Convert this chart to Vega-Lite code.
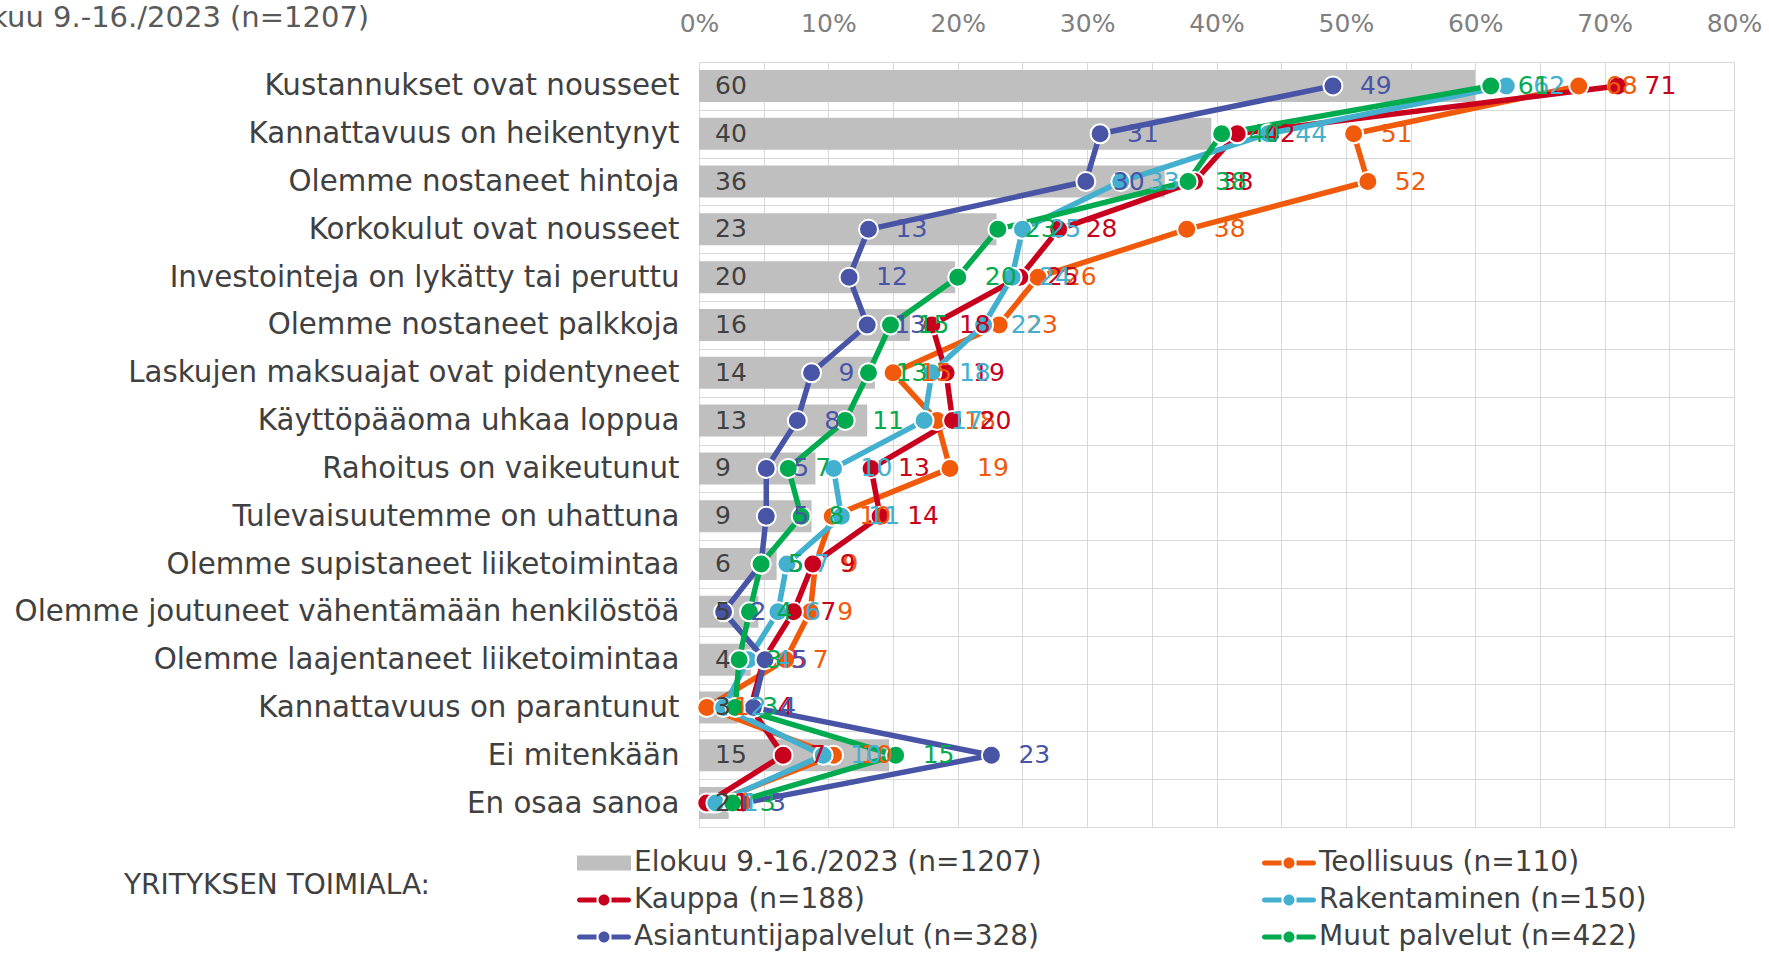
{
  "$schema": "https://vega.github.io/schema/vega-lite/v6.json",
  "width": 1035,
  "height": 765,
  "autosize": {"type": "none"},
  "padding": {"left": 699, "top": 62, "right": 35, "bottom": 127},
  "background": "white",
  "config": {
    "font": "DejaVu Sans",
    "view": {"stroke": "#d9d9d9", "strokeWidth": 1}
  },
  "title": {
    "text": "Elokuu 9.-16./2023 (n=1207)",
    "anchor": "start",
    "frame": "group",
    "dx": -752,
    "dy": 51,
    "offset": 0,
    "fontSize": 29,
    "fontWeight": "normal",
    "color": "#595959",
    "baseline": "bottom"
  },
  "data": {
    "values": [
      {"category": "Kustannukset ovat nousseet", "series": "Elokuu 9.-16./2023 (n=1207)", "value": 60},
      {"category": "Kustannukset ovat nousseet", "series": "Teollisuus (n=110)", "value": 68},
      {"category": "Kustannukset ovat nousseet", "series": "Kauppa (n=188)", "value": 71},
      {"category": "Kustannukset ovat nousseet", "series": "Rakentaminen (n=150)", "value": 62.4},
      {"category": "Kustannukset ovat nousseet", "series": "Asiantuntijapalvelut (n=328)", "value": 49},
      {"category": "Kustannukset ovat nousseet", "series": "Muut palvelut (n=422)", "value": 61.2},

      {"category": "Kannattavuus on heikentynyt", "series": "Elokuu 9.-16./2023 (n=1207)", "value": 39.6},
      {"category": "Kannattavuus on heikentynyt", "series": "Teollisuus (n=110)", "value": 50.6},
      {"category": "Kannattavuus on heikentynyt", "series": "Kauppa (n=188)", "value": 41.6},
      {"category": "Kannattavuus on heikentynyt", "series": "Rakentaminen (n=150)", "value": 44},
      {"category": "Kannattavuus on heikentynyt", "series": "Asiantuntijapalvelut (n=328)", "value": 31},
      {"category": "Kannattavuus on heikentynyt", "series": "Muut palvelut (n=422)", "value": 40.4},

      {"category": "Olemme nostaneet hintoja", "series": "Elokuu 9.-16./2023 (n=1207)", "value": 36},
      {"category": "Olemme nostaneet hintoja", "series": "Teollisuus (n=110)", "value": 51.7},
      {"category": "Olemme nostaneet hintoja", "series": "Kauppa (n=188)", "value": 38.3},
      {"category": "Olemme nostaneet hintoja", "series": "Rakentaminen (n=150)", "value": 32.6},
      {"category": "Olemme nostaneet hintoja", "series": "Asiantuntijapalvelut (n=328)", "value": 29.9},
      {"category": "Olemme nostaneet hintoja", "series": "Muut palvelut (n=422)", "value": 37.8},

      {"category": "Korkokulut ovat nousseet", "series": "Elokuu 9.-16./2023 (n=1207)", "value": 23},
      {"category": "Korkokulut ovat nousseet", "series": "Teollisuus (n=110)", "value": 37.7},
      {"category": "Korkokulut ovat nousseet", "series": "Kauppa (n=188)", "value": 27.8},
      {"category": "Korkokulut ovat nousseet", "series": "Rakentaminen (n=150)", "value": 25},
      {"category": "Korkokulut ovat nousseet", "series": "Asiantuntijapalvelut (n=328)", "value": 13.1},
      {"category": "Korkokulut ovat nousseet", "series": "Muut palvelut (n=422)", "value": 23.1},

      {"category": "Investointeja on lykätty tai peruttu", "series": "Elokuu 9.-16./2023 (n=1207)", "value": 19.8},
      {"category": "Investointeja on lykätty tai peruttu", "series": "Teollisuus (n=110)", "value": 26.2},
      {"category": "Investointeja on lykätty tai peruttu", "series": "Kauppa (n=188)", "value": 24.8},
      {"category": "Investointeja on lykätty tai peruttu", "series": "Rakentaminen (n=150)", "value": 24.2},
      {"category": "Investointeja on lykätty tai peruttu", "series": "Asiantuntijapalvelut (n=328)", "value": 11.6},
      {"category": "Investointeja on lykätty tai peruttu", "series": "Muut palvelut (n=422)", "value": 20},

      {"category": "Olemme nostaneet palkkoja", "series": "Elokuu 9.-16./2023 (n=1207)", "value": 16.3},
      {"category": "Olemme nostaneet palkkoja", "series": "Teollisuus (n=110)", "value": 23.2},
      {"category": "Olemme nostaneet palkkoja", "series": "Kauppa (n=188)", "value": 18},
      {"category": "Olemme nostaneet palkkoja", "series": "Rakentaminen (n=150)", "value": 22},
      {"category": "Olemme nostaneet palkkoja", "series": "Asiantuntijapalvelut (n=328)", "value": 13},
      {"category": "Olemme nostaneet palkkoja", "series": "Muut palvelut (n=422)", "value": 14.8},

      {"category": "Laskujen maksuajat ovat pidentyneet", "series": "Elokuu 9.-16./2023 (n=1207)", "value": 13.6},
      {"category": "Laskujen maksuajat ovat pidentyneet", "series": "Teollisuus (n=110)", "value": 15},
      {"category": "Laskujen maksuajat ovat pidentyneet", "series": "Kauppa (n=188)", "value": 19.1},
      {"category": "Laskujen maksuajat ovat pidentyneet", "series": "Rakentaminen (n=150)", "value": 18},
      {"category": "Laskujen maksuajat ovat pidentyneet", "series": "Asiantuntijapalvelut (n=328)", "value": 8.7},
      {"category": "Laskujen maksuajat ovat pidentyneet", "series": "Muut palvelut (n=422)", "value": 13.1},

      {"category": "Käyttöpääoma uhkaa loppua", "series": "Elokuu 9.-16./2023 (n=1207)", "value": 13},
      {"category": "Käyttöpääoma uhkaa loppua", "series": "Teollisuus (n=110)", "value": 18.4},
      {"category": "Käyttöpääoma uhkaa loppua", "series": "Kauppa (n=188)", "value": 19.6},
      {"category": "Käyttöpääoma uhkaa loppua", "series": "Rakentaminen (n=150)", "value": 17.4},
      {"category": "Käyttöpääoma uhkaa loppua", "series": "Asiantuntijapalvelut (n=328)", "value": 7.6},
      {"category": "Käyttöpääoma uhkaa loppua", "series": "Muut palvelut (n=422)", "value": 11.3},

      {"category": "Rahoitus on vaikeutunut", "series": "Elokuu 9.-16./2023 (n=1207)", "value": 9},
      {"category": "Rahoitus on vaikeutunut", "series": "Teollisuus (n=110)", "value": 19.4},
      {"category": "Rahoitus on vaikeutunut", "series": "Kauppa (n=188)", "value": 13.3},
      {"category": "Rahoitus on vaikeutunut", "series": "Rakentaminen (n=150)", "value": 10.4},
      {"category": "Rahoitus on vaikeutunut", "series": "Asiantuntijapalvelut (n=328)", "value": 5.2},
      {"category": "Rahoitus on vaikeutunut", "series": "Muut palvelut (n=422)", "value": 6.9},

      {"category": "Tulevaisuutemme on uhattuna", "series": "Elokuu 9.-16./2023 (n=1207)", "value": 8.7},
      {"category": "Tulevaisuutemme on uhattuna", "series": "Teollisuus (n=110)", "value": 10.3},
      {"category": "Tulevaisuutemme on uhattuna", "series": "Kauppa (n=188)", "value": 14},
      {"category": "Tulevaisuutemme on uhattuna", "series": "Rakentaminen (n=150)", "value": 11},
      {"category": "Tulevaisuutemme on uhattuna", "series": "Asiantuntijapalvelut (n=328)", "value": 5.2},
      {"category": "Tulevaisuutemme on uhattuna", "series": "Muut palvelut (n=422)", "value": 7.9},

      {"category": "Olemme supistaneet liiketoimintaa", "series": "Elokuu 9.-16./2023 (n=1207)", "value": 6},
      {"category": "Olemme supistaneet liiketoimintaa", "series": "Teollisuus (n=110)", "value": 9},
      {"category": "Olemme supistaneet liiketoimintaa", "series": "Kauppa (n=188)", "value": 8.8},
      {"category": "Olemme supistaneet liiketoimintaa", "series": "Rakentaminen (n=150)", "value": 6.8},
      {"category": "Olemme supistaneet liiketoimintaa", "series": "Asiantuntijapalvelut (n=328)", "value": 4.8},
      {"category": "Olemme supistaneet liiketoimintaa", "series": "Muut palvelut (n=422)", "value": 4.8},

      {"category": "Olemme joutuneet vähentämään henkilöstöä", "series": "Elokuu 9.-16./2023 (n=1207)", "value": 4.6},
      {"category": "Olemme joutuneet vähentämään henkilöstöä", "series": "Teollisuus (n=110)", "value": 8.6},
      {"category": "Olemme joutuneet vähentämään henkilöstöä", "series": "Kauppa (n=188)", "value": 7.3},
      {"category": "Olemme joutuneet vähentämään henkilöstöä", "series": "Rakentaminen (n=150)", "value": 6.1},
      {"category": "Olemme joutuneet vähentämään henkilöstöä", "series": "Asiantuntijapalvelut (n=328)", "value": 1.9},
      {"category": "Olemme joutuneet vähentämään henkilöstöä", "series": "Muut palvelut (n=422)", "value": 3.9},

      {"category": "Olemme laajentaneet liiketoimintaa", "series": "Elokuu 9.-16./2023 (n=1207)", "value": 4},
      {"category": "Olemme laajentaneet liiketoimintaa", "series": "Teollisuus (n=110)", "value": 6.7},
      {"category": "Olemme laajentaneet liiketoimintaa", "series": "Kauppa (n=188)", "value": 5},
      {"category": "Olemme laajentaneet liiketoimintaa", "series": "Rakentaminen (n=150)", "value": 3.8},
      {"category": "Olemme laajentaneet liiketoimintaa", "series": "Asiantuntijapalvelut (n=328)", "value": 5.1},
      {"category": "Olemme laajentaneet liiketoimintaa", "series": "Muut palvelut (n=422)", "value": 3.1},

      {"category": "Kannattavuus on parantunut", "series": "Elokuu 9.-16./2023 (n=1207)", "value": 3},
      {"category": "Kannattavuus on parantunut", "series": "Teollisuus (n=110)", "value": 0.6},
      {"category": "Kannattavuus on parantunut", "series": "Kauppa (n=188)", "value": 4},
      {"category": "Kannattavuus on parantunut", "series": "Rakentaminen (n=150)", "value": 1.9},
      {"category": "Kannattavuus on parantunut", "series": "Asiantuntijapalvelut (n=328)", "value": 4.2},
      {"category": "Kannattavuus on parantunut", "series": "Muut palvelut (n=422)", "value": 2.8},

      {"category": "Ei mitenkään", "series": "Elokuu 9.-16./2023 (n=1207)", "value": 14.7},
      {"category": "Ei mitenkään", "series": "Teollisuus (n=110)", "value": 10.4},
      {"category": "Ei mitenkään", "series": "Kauppa (n=188)", "value": 6.5},
      {"category": "Ei mitenkään", "series": "Rakentaminen (n=150)", "value": 9.6},
      {"category": "Ei mitenkään", "series": "Asiantuntijapalvelut (n=328)", "value": 22.6},
      {"category": "Ei mitenkään", "series": "Muut palvelut (n=422)", "value": 15.2},

      {"category": "En osaa sanoa", "series": "Elokuu 9.-16./2023 (n=1207)", "value": 2.3},
      {"category": "En osaa sanoa", "series": "Teollisuus (n=110)", "value": 1},
      {"category": "En osaa sanoa", "series": "Kauppa (n=188)", "value": 0.6},
      {"category": "En osaa sanoa", "series": "Rakentaminen (n=150)", "value": 1.3},
      {"category": "En osaa sanoa", "series": "Asiantuntijapalvelut (n=328)", "value": 3.4},
      {"category": "En osaa sanoa", "series": "Muut palvelut (n=422)", "value": 2.6}
    ]
  },
  "encoding": {
    "x": {
      "field": "value",
      "type": "quantitative",
      "scale": {"domain": [0, 80], "nice": false, "zero": true},
      "axis": {
        "orient": "top",
        "values": [0, 5, 10, 15, 20, 25, 30, 35, 40, 45, 50, 55, 60, 65, 70, 75, 80],
        "labelExpr": "datum.value % 10 === 0 ? datum.value + '%' : ''",
        "grid": true,
        "gridColor": "#d9d9d9",
        "gridWidth": 1,
        "domain": false,
        "ticks": false,
        "tickSize": 0,
        "labelFontSize": 25,
        "labelColor": "#7f7f7f",
        "labelPadding": 39,
        "labelBaseline": "middle",
        "labelOverlap": false,
        "labelFlush": false,
        "title": null
      }
    },
    "y": {
      "field": "category",
      "type": "nominal",
      "sort": null,
      "scale": {
        "domain": [
          "Kustannukset ovat nousseet",
          "Kannattavuus on heikentynyt",
          "Olemme nostaneet hintoja",
          "Korkokulut ovat nousseet",
          "Investointeja on lykätty tai peruttu",
          "Olemme nostaneet palkkoja",
          "Laskujen maksuajat ovat pidentyneet",
          "Käyttöpääoma uhkaa loppua",
          "Rahoitus on vaikeutunut",
          "Tulevaisuutemme on uhattuna",
          "Olemme supistaneet liiketoimintaa",
          "Olemme joutuneet vähentämään henkilöstöä",
          "Olemme laajentaneet liiketoimintaa",
          "Kannattavuus on parantunut",
          "Ei mitenkään",
          "En osaa sanoa"
        ],
        "paddingInner": 0,
        "paddingOuter": 0
      },
      "axis": {
        "orient": "left",
        "grid": true,
        "tickBand": "extent",
        "gridColor": "#d9d9d9",
        "gridWidth": 1,
        "domain": false,
        "ticks": false,
        "tickSize": 0,
        "labelFontSize": 29.3,
        "labelColor": "#404040",
        "labelPadding": 20,
        "labelLimit": 1000,
        "title": null
      }
    }
  },
  "layer": [
    {
      "transform": [{"filter": "datum.series === 'Elokuu 9.-16./2023 (n=1207)'"}],
      "mark": {"type": "bar", "height": {"band": 0.67}, "color": "#bfbfbf"}
    },
    {
      "transform": [{"filter": "datum.series !== 'Elokuu 9.-16./2023 (n=1207)'"}],
      "mark": {"type": "line", "strokeWidth": 5.5, "strokeJoin": "round", "strokeCap": "round"},
      "encoding": {
        "stroke": {
          "field": "series",
          "type": "nominal",
          "scale": {
            "domain": ["Teollisuus (n=110)", "Kauppa (n=188)", "Rakentaminen (n=150)", "Asiantuntijapalvelut (n=328)", "Muut palvelut (n=422)"],
            "range": ["#f05a0a", "#c8001e", "#42b0ce", "#4855a6", "#00ab50"]
          },
          "legend": null
        },
        "order": {"value": null}
      }
    },
    {
      "transform": [{"filter": "datum.series !== 'Elokuu 9.-16./2023 (n=1207)'"}],
      "mark": {"type": "point", "shape": "circle", "filled": true, "size": 360, "stroke": "white", "strokeWidth": 2, "opacity": 1, "fillOpacity": 1},
      "encoding": {
        "fill": {
          "field": "series",
          "type": "nominal",
          "scale": {
            "domain": ["Teollisuus (n=110)", "Kauppa (n=188)", "Rakentaminen (n=150)", "Asiantuntijapalvelut (n=328)", "Muut palvelut (n=422)"],
            "range": ["#f05a0a", "#c8001e", "#42b0ce", "#4855a6", "#00ab50"]
          },
          "legend": null
        }
      }
    },
    {
      "transform": [{"filter": "datum.series !== 'Elokuu 9.-16./2023 (n=1207)'"}],
      "mark": {"type": "text", "align": "left", "baseline": "middle", "dx": 27, "fontSize": 25},
      "encoding": {
        "text": {"field": "value", "type": "quantitative", "format": ".0f"},
        "fill": {"field": "series", "type": "nominal", "legend": null}
      }
    },
    {
      "transform": [{"filter": "datum.series === 'Elokuu 9.-16./2023 (n=1207)'"}],
      "mark": {"type": "text", "align": "left", "baseline": "middle", "dx": 16, "fontSize": 25, "color": "#404040"},
      "encoding": {
        "x": {"datum": 0, "type": "quantitative"},
        "text": {"field": "value", "type": "quantitative", "format": ".0f"}
      }
    },
    {
      "mark": {"type": "point", "filled": true, "opacity": 0},
      "encoding": {
        "color": {
          "field": "series",
          "type": "nominal",
          "scale": {
            "domain": ["Elokuu 9.-16./2023 (n=1207)", "Teollisuus (n=110)", "Kauppa (n=188)", "Rakentaminen (n=150)", "Asiantuntijapalvelut (n=328)", "Muut palvelut (n=422)"],
            "range": ["#bfbfbf", "#f05a0a", "#c8001e", "#42b0ce", "#4855a6", "#00ab50"]
          },
          "legend": {
            "orient": "none",
            "direction": "horizontal",
            "legendX": -575,
            "legendY": 787,
            "columns": 2,
            "columnPadding": 216,
            "rowPadding": 9,
            "padding": 0,
            "title": "YRITYKSEN TOIMIALA:",
            "titleOrient": "left",
            "titleAnchor": "middle",
            "titleBaseline": "bottom",
            "titleFontSize": 28,
            "titleFontWeight": "normal",
            "titleColor": "#404040",
            "titlePadding": 142,
            "titleLimit": 1000,
            "labelFontSize": 28,
            "labelColor": "#404040",
            "labelLimit": 800,
            "labelOffset": 33,
            "symbolSize": 400,
            "symbolStrokeWidth": 0,
            "symbolOpacity": 1
          }
        },
        "shape": {
          "field": "series",
          "type": "nominal",
          "scale": {
            "domain": ["Elokuu 9.-16./2023 (n=1207)", "Teollisuus (n=110)", "Kauppa (n=188)", "Rakentaminen (n=150)", "Asiantuntijapalvelut (n=328)", "Muut palvelut (n=422)"],
            "range": [
              "M-1,-0.75H4.4V0.75H-1Z",
              "M-0.75,-0.25H0.95V0.25H-0.75A0.25,0.25 0 0 1 -0.75,-0.25Z M2.45,-0.25H4.15A0.25,0.25 0 0 1 4.15,0.25H2.45Z M2.25,0A0.55,0.55 0 1 1 1.15,0A0.55,0.55 0 1 1 2.25,0Z",
              "M-0.75,-0.25H0.95V0.25H-0.75A0.25,0.25 0 0 1 -0.75,-0.25Z M2.45,-0.25H4.15A0.25,0.25 0 0 1 4.15,0.25H2.45Z M2.25,0A0.55,0.55 0 1 1 1.15,0A0.55,0.55 0 1 1 2.25,0Z",
              "M-0.75,-0.25H0.95V0.25H-0.75A0.25,0.25 0 0 1 -0.75,-0.25Z M2.45,-0.25H4.15A0.25,0.25 0 0 1 4.15,0.25H2.45Z M2.25,0A0.55,0.55 0 1 1 1.15,0A0.55,0.55 0 1 1 2.25,0Z",
              "M-0.75,-0.25H0.95V0.25H-0.75A0.25,0.25 0 0 1 -0.75,-0.25Z M2.45,-0.25H4.15A0.25,0.25 0 0 1 4.15,0.25H2.45Z M2.25,0A0.55,0.55 0 1 1 1.15,0A0.55,0.55 0 1 1 2.25,0Z",
              "M-0.75,-0.25H0.95V0.25H-0.75A0.25,0.25 0 0 1 -0.75,-0.25Z M2.45,-0.25H4.15A0.25,0.25 0 0 1 4.15,0.25H2.45Z M2.25,0A0.55,0.55 0 1 1 1.15,0A0.55,0.55 0 1 1 2.25,0Z"
            ]
          },
          "legend": {
            "orient": "none",
            "direction": "horizontal",
            "legendX": -575,
            "legendY": 787,
            "columns": 2,
            "columnPadding": 216,
            "rowPadding": 9,
            "padding": 0,
            "title": "YRITYKSEN TOIMIALA:",
            "titleOrient": "left",
            "titleAnchor": "middle",
            "titleBaseline": "bottom",
            "titleFontSize": 28,
            "titleFontWeight": "normal",
            "titleColor": "#404040",
            "titlePadding": 142,
            "titleLimit": 1000,
            "labelFontSize": 28,
            "labelColor": "#404040",
            "labelLimit": 800,
            "labelOffset": 33,
            "symbolSize": 400,
            "symbolStrokeWidth": 0,
            "symbolOpacity": 1
          }
        }
      }
    }
  ]
}
